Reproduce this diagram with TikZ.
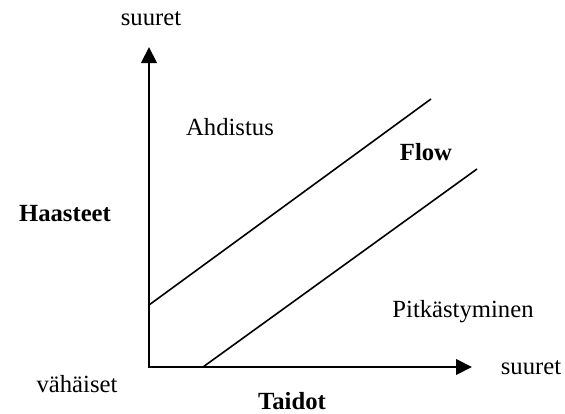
\documentclass[tikz,border=0pt]{standalone}
\usepackage{fontspec}
\setmainfont{Liberation Serif}
\usepackage{tikz}
\usetikzlibrary{arrows.meta, positioning, calc}

\begin{document}
\begin{tikzpicture}[x=0.75pt, y=-0.75pt, >={Triangle[length=12pt, width=11.5pt]}]

        % Tyylit
        \tikzstyle{axis} = [line width=2.2pt, ->]
        \tikzstyle{band} = [line width=1.2pt]
        \tikzstyle{label} = [font=\fontsize{18.5}{22}\selectfont, inner sep=0pt]
        \tikzstyle{title} = [label, font=\fontsize{18.5}{22}\selectfont\bfseries]

        \useasboundingbox (0,0) rectangle (565,414);

        % Akselit
        \coordinate (origin) at (149,367);
        \coordinate (ytop) at (149,47);
        \coordinate (xend) at (472,367);
        \draw [axis] (origin) -- (ytop);
        \draw [axis] ($(origin)+(-1.1,0)$) -- (xend);

        % Flow-kanavan rajat
        \coordinate (upA) at (149,305);
        \coordinate (upB) at (431,99);
        \coordinate (lowA) at (203,367);
        \coordinate (lowB) at (477,169);
        \draw [band] (upA) -- (upB);
        \draw [band] (lowA) -- (lowB);

        % Tekstit
        \node [label] (ymax) at (151,19) {suuret};
        \node [label] (xmax) at (531,368) {suuret};
        \node [label] (low) at (77,384) {vähäiset};
        \node [title] (yname) at (65,214) {Haasteet};
        \node [title] (xname) at (292,401) {Taidot};
        \node [label] (anx) at (230,127) {Ahdistus};
        \node [title] (flow) at (426,152) {Flow};
        \node [label] (bore) at (463,312) {Pitkästyminen};
    \end{tikzpicture}
\end{document}
